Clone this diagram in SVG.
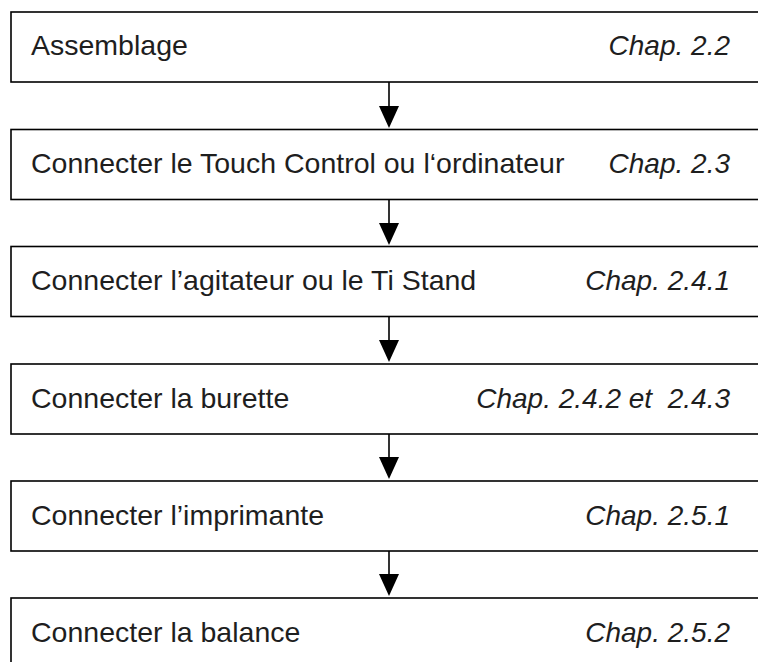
<svg xmlns="http://www.w3.org/2000/svg" width="758" height="662" viewBox="0 0 758 662">
<style>
.box{fill:#fff;stroke:#000;stroke-width:1.6}
.t{font-family:"Liberation Sans",Arial,sans-serif;font-size:28.5px;fill:#1e1e1e}
.c{font-family:"Liberation Sans",Arial,sans-serif;font-size:28px;fill:#1e1e1e;font-style:italic;text-anchor:end;white-space:pre}
.ln{stroke:#000;stroke-width:1.6;fill:none}
.hd{fill:#000}
</style>
<rect width="758" height="662" fill="#fff"/>
<g id="connectors">
<line class="ln" x1="389" y1="82" x2="389" y2="108"/><polygon class="hd" points="379,106 399,106 389,128"/>
<line class="ln" x1="389" y1="199" x2="389" y2="225"/><polygon class="hd" points="379,223 399,223 389,245"/>
<line class="ln" x1="389" y1="317" x2="389" y2="342"/><polygon class="hd" points="379,340 399,340 389,362"/>
<line class="ln" x1="389" y1="434" x2="389" y2="459"/><polygon class="hd" points="379,457 399,457 389,479"/>
<line class="ln" x1="389" y1="551" x2="389" y2="576"/><polygon class="hd" points="379,574 399,574 389,596"/>
</g>
<g id="n1"><rect class="box" x="11" y="12" width="760" height="70"/><text class="t" x="31" y="55">Assemblage</text><text class="c" x="730" y="55">Chap. 2.2</text></g>
<g id="n2"><rect class="box" x="11" y="129.5" width="760" height="70"/><text class="t" x="31" y="173">Connecter le Touch Control ou l‘ordinateur</text><text class="c" x="730" y="173">Chap. 2.3</text></g>
<g id="n3"><rect class="box" x="11" y="246.5" width="760" height="70"/><text class="t" x="31" y="290">Connecter l’agitateur ou le Ti Stand</text><text class="c" x="730" y="290">Chap. 2.4.1</text></g>
<g id="n4"><rect class="box" x="11" y="364" width="760" height="70"/><text class="t" x="31" y="407.5">Connecter la burette</text><text class="c" x="730" y="407.5" xml:space="preserve">Chap. 2.4.2 et  2.4.3</text></g>
<g id="n5"><rect class="box" x="11" y="481" width="760" height="70"/><text class="t" x="31" y="524.5">Connecter l’imprimante</text><text class="c" x="730" y="524.5">Chap. 2.5.1</text></g>
<g id="n6"><rect class="box" x="11" y="598" width="760" height="70"/><text class="t" x="31" y="641.5">Connecter la balance</text><text class="c" x="730" y="641.5">Chap. 2.5.2</text></g>
</svg>
